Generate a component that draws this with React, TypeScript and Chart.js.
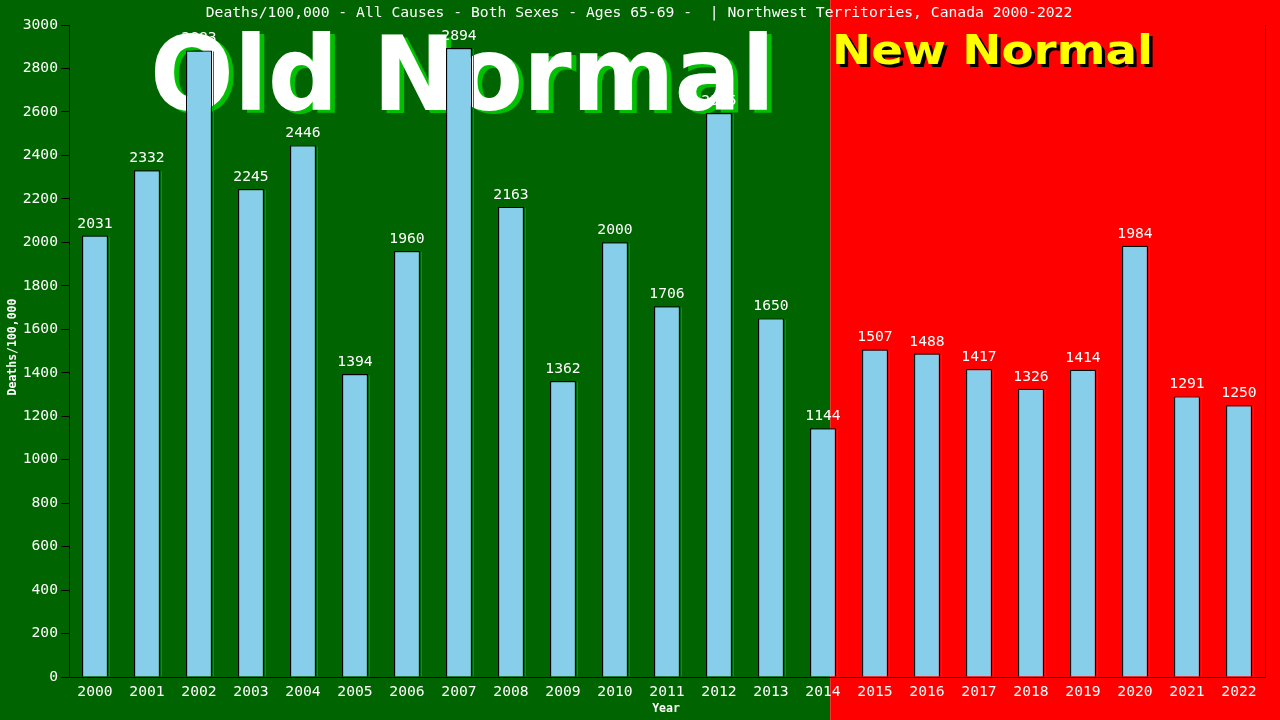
import React, { useEffect, useRef } from "react";
import { Chart, registerables } from "chart.js";

Chart.register(...registerables);

const years: string[] = [
  "2000", "2001", "2002", "2003", "2004", "2005", "2006", "2007", "2008", "2009", "2010", "2011",
  "2012", "2013", "2014", "2015", "2016", "2017", "2018", "2019", "2020", "2021", "2022",
];
const deathRates: number[] = [
  2031, 2332, 2883, 2245, 2446, 1394, 1960, 2894, 2163, 1362, 2000, 1706,
  2595, 1650, 1144, 1507, 1488, 1417, 1326, 1414, 1984, 1291, 1250,
];
const titleText = "Deaths/100,000 - All Causes - Both Sexes - Ages 65-69 -  | Northwest Territories, Canada 2000-2022";
const yAxisTitle = "Deaths/100,000";
const xAxisTitle = "Year";
const oldLabel = "Old Normal";
const newLabel = "New Normal";
const splitIndex = 14; // last "old normal" year index (2014)

const MONO = '"DejaVu Sans Mono", "Liberation Mono", monospace';
const SANS = '"DejaVu Sans", Verdana, sans-serif';

const decorPlugin = {
  id: "decor",
  beforeDraw(chart: any) {
    const { ctx, width, height } = chart;
    const x = chart.scales.x;
    const a = x.getPixelForValue(splitIndex);
    const b = x.getPixelForValue(splitIndex + 1);
    const split = a + (b - a) * 0.14;
    ctx.save();
    ctx.fillStyle = "#006400";
    ctx.fillRect(0, 0, split, height);
    ctx.fillStyle = "#ff0000";
    ctx.fillRect(split, 0, width - split, height);
    // title
    ctx.fillStyle = "#ffffff";
    ctx.font = `14.7px ${MONO}`;
    ctx.textAlign = "center";
    ctx.textBaseline = "middle";
    ctx.fillText(titleText, 639, 13);
    // axis titles
    ctx.font = `bold 11.5px ${MONO}`;
    ctx.fillText(xAxisTitle, 666, 709);
    ctx.save();
    ctx.translate(13, 347);
    ctx.rotate(-Math.PI / 2);
    ctx.fillText(yAxisTitle, 0, 0);
    ctx.restore();
    ctx.restore();
  },
  beforeDatasetsDraw(chart: any) {
    const { ctx } = chart;
    ctx.save();
    ctx.textAlign = "left";
    ctx.textBaseline = "alphabetic";
    // Old Normal
    ctx.font = `bold 103px ${SANS}`;
    let w = ctx.measureText(oldLabel).width;
    ctx.save();
    ctx.translate(150, 110);
    ctx.scale(625 / w, 1);
    ctx.fillStyle = "#00c000";
    ctx.fillText(oldLabel, 5, 3);
    ctx.fillStyle = "#ffffff";
    ctx.fillText(oldLabel, 0, 0);
    ctx.restore();
    // New Normal
    ctx.font = `bold 41px ${SANS}`;
    w = ctx.measureText(newLabel).width;
    ctx.save();
    ctx.translate(832, 64);
    ctx.scale(321 / w, 1);
    ctx.fillStyle = "#000000";
    ctx.fillText(newLabel, 3, 3);
    ctx.fillStyle = "#ffff00";
    ctx.fillText(newLabel, 0, 0);
    ctx.restore();
    ctx.restore();
  },
  afterDatasetsDraw(chart: any) {
    const { ctx, chartArea } = chart;
    const meta = chart.getDatasetMeta(0);
    ctx.save();
    // blue right edge of bars
    ctx.strokeStyle = "#1f5fd0";
    ctx.lineWidth = 1;
    meta.data.forEach((bar: any) => {
      const xr = Math.round(bar.x + bar.width / 2) + 1.5;
      ctx.beginPath();
      ctx.moveTo(xr, bar.y + 1);
      ctx.lineTo(xr, bar.base);
      ctx.stroke();
    });
    // value labels
    ctx.fillStyle = "#ffffff";
    ctx.font = `14.7px ${MONO}`;
    ctx.textAlign = "center";
    ctx.textBaseline = "alphabetic";
    meta.data.forEach((bar: any, i: number) => {
      ctx.fillText(String(deathRates[i]), bar.x, bar.y - 8);
    });
    // right frame line
    ctx.strokeStyle = "#000000";
    ctx.beginPath();
    ctx.moveTo(chartArea.right + 0.5, chartArea.top);
    ctx.lineTo(chartArea.right + 0.5, chartArea.bottom);
    ctx.stroke();
    ctx.restore();
  },
};

export default function App() {
  const ref = useRef<HTMLCanvasElement | null>(null);
  useEffect(() => {
    if (!ref.current) return;
    const chart = new Chart(ref.current, {
      type: "bar",
      data: {
        labels: years,
        datasets: [
          {
            data: deathRates,
            backgroundColor: "#87ceeb",
            borderColor: "#000000",
            borderWidth: 1.2,
            barPercentage: 0.5,
            categoryPercentage: 1,
          },
        ],
      },
      options: {
        animation: false,
        responsive: false,
        devicePixelRatio: 1,
        layout: { padding: { top: 25, right: 15, left: 0, bottom: 0 } },
        plugins: { legend: { display: false }, tooltip: { enabled: false }, title: { display: false } },
        scales: {
          x: {
            grid: { display: false, drawTicks: false, tickLength: 0 },
            border: { display: true, color: "#000000", width: 1 },
            ticks: { color: "#ffffff", font: { family: MONO, size: 14.7 }, padding: 6, maxRotation: 0, autoSkip: false },
            afterFit: (s: any) => { s.height = 43; },
          },
          y: {
            min: 0,
            max: 3000,
            grid: { display: true, drawOnChartArea: false, drawTicks: true, tickLength: 8, color: "#000000" },
            border: { display: true, color: "#000000", width: 1 },
            ticks: {
              stepSize: 200,
              color: "#ffffff",
              font: { family: MONO, size: 14.7 },
              padding: 3,
              callback: (v: any) => String(v),
            },
            afterFit: (s: any) => { s.width = 69; },
          },
        },
      },
      plugins: [decorPlugin],
    });
    return () => chart.destroy();
  }, []);
  return (
    <div style={{ position: "fixed", left: 0, top: 0, width: 1280, height: 720 }}>
      <canvas ref={ref} width={1280} height={720} style={{ width: 1280, height: 720, display: "block" }} />
    </div>
  );
}
